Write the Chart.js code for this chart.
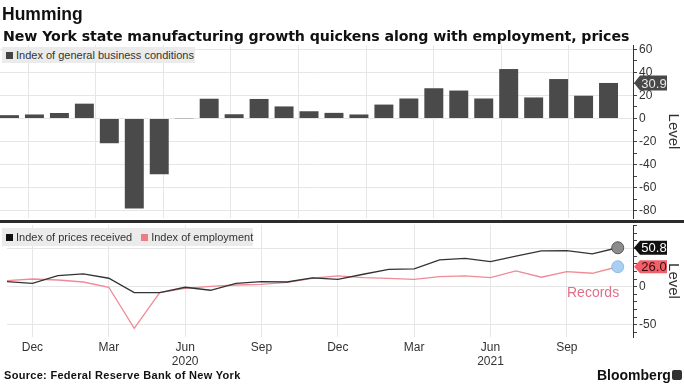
<!DOCTYPE html>
<html><head><meta charset="utf-8">
<script src="https://cdn.jsdelivr.net/npm/chart.js@4.4.0/dist/chart.umd.min.js"></script>
<style>
html,body{margin:0;padding:0;background:#fff}
body{width:684px;height:384px;overflow:hidden;position:relative;font-family:'Liberation Sans',Arial,sans-serif;color:#222}
canvas{position:absolute;left:0;top:0}
.t{position:absolute;white-space:nowrap}
#title{left:2px;top:4px;font-size:17.5px;font-weight:bold;color:#111}
#subtitle{left:3px;top:28px;font-size:14.2px;font-weight:bold;color:#111;font-family:'DejaVu Sans',sans-serif;letter-spacing:-0.1px}
.legend{position:absolute;background:#ebebeb;font-size:11px;color:#333;display:flex;align-items:center;padding:0 4px;box-sizing:border-box;white-space:nowrap}
.legend .sq{display:inline-block;width:7px;height:7px;margin-right:3px}
.legend .it{display:flex;align-items:center;margin-right:9px;white-space:nowrap}
#sep{position:absolute;left:0;top:220px;width:684px;height:3px;background:#2b2b2b}
#records{left:567px;top:284px;font-size:14px;color:#e0708a}
#source{left:4px;top:369px;font-size:11px;font-weight:bold;color:#111;letter-spacing:0.3px}
#bbg{left:597px;top:367px;font-size:14px;font-weight:bold;color:#111}
#bbgicon{position:absolute;left:672px;top:370px;width:10px;height:10px;background:#333;border-radius:2px}
</style></head><body>
<canvas id="c1" width="684" height="384"></canvas>
<canvas id="c2" width="684" height="384"></canvas>
<div id="sep"></div>
<div class="t" id="title">Humming</div>
<div class="t" id="subtitle">New York state manufacturing growth quickens along with employment, prices</div>
<div class="legend" style="left:2px;top:47px;width:193px;height:16px"><span class="it"><span class="sq" style="background:#444"></span>Index of general business conditions</span></div>
<div class="legend" style="left:2px;top:228px;width:251px;height:18px"><span class="it"><span class="sq" style="background:#111"></span>Index of prices received</span><span class="it"><span class="sq" style="background:#f07a85"></span>Index of employment</span></div>
<div class="t" id="records">Records</div>
<div class="t" id="source">Source: Federal Reserve Bank of New York</div>
<div class="t" id="bbg">Bloomberg</div>
<div id="bbgicon"></div>
<script>
// ---- data ----
const months = ['Nov 2019','Dec 2019','Jan 2020','Feb 2020','Mar 2020','Apr 2020','May 2020','Jun 2020','Jul 2020','Aug 2020','Sep 2020','Oct 2020','Nov 2020','Dec 2020','Jan 2021','Feb 2021','Mar 2021','Apr 2021','May 2021','Jun 2021','Jul 2021','Aug 2021','Sep 2021','Oct 2021','Nov 2021'];
const businessConditions = [2.9,3.5,4.8,12.9,-21.5,-78.2,-48.5,-0.2,17.2,3.7,17.0,10.5,6.3,4.9,3.5,12.1,17.4,26.3,24.3,17.4,43.0,18.3,34.3,19.8,30.9];
const pricesReceived = [6.5,4.4,14.4,16.6,11.0,-7.8,-7.8,-0.8,-4.7,4.4,6.5,6.1,11.4,9.6,16.2,22.7,23.1,34.9,37.0,32.6,40.0,46.6,47.0,42.7,50.8];
const employment = [7.8,10.0,8.7,6.1,-0.8,-54.3,-7.8,-2.2,0.4,2.2,3.0,5.7,11.0,14.0,11.7,10.9,9.6,13.0,14.0,11.7,20.5,12.3,19.6,17.5,26.0];
const tickMonthNames = ['Dec','Mar','Jun','Sep'];
const topTicks = [-80,-60,-40,-20,0,20,40,60];
const bottomTicks = [-50,0,50];

// derived tick positions (quarter months) from the categories
const qIdx = [];
months.forEach((m,i)=>{ if (tickMonthNames.includes(m.slice(0,3))) qIdx.push(i); });

const AXIS_W = 51;
const FONT = "'Liberation Sans', Arial, sans-serif";
const gridCol = '#e6e6e6';

const tagPlugin = {
  id: 'tags',
  afterDraw(chart, args, opts) {
    const ctx = chart.ctx;
    const yS = chart.scales.y;
    const x0 = chart.chartArea.right;
    (opts.items || []).forEach(t => {
      const data = chart.data.datasets[t.ds].data;
      const last = data[data.length - 1];
      const v = typeof last === 'object' ? last.y : last;
      const y = yS.getPixelForValue(v);
      const h = t.h || 15;
      ctx.save();
      ctx.fillStyle = t.bg;
      ctx.beginPath();
      ctx.moveTo(x0 + 1, y);
      ctx.lineTo(x0 + 7, y - h / 2);
      ctx.lineTo(x0 + 34, y - h / 2);
      ctx.lineTo(x0 + 34, y + h / 2);
      ctx.lineTo(x0 + 7, y + h / 2);
      ctx.closePath();
      ctx.fill();
      ctx.fillStyle = t.fg;
      ctx.font = '13px ' + FONT;
      ctx.textAlign = 'center';
      ctx.textBaseline = 'middle';
      ctx.fillText(v.toFixed(1), x0 + 21, y + 1);
      ctx.restore();
    });
  }
};

function yAxis(min, max, step, majors, gridEvery) {
  return {
    type: 'linear', position: 'right', min, max,
    afterFit(s) { s.width = AXIS_W; },
    afterBuildTicks(s) {
      const t = [];
      for (let k = Math.ceil(min / step); k * step <= max; k++) t.push({ value: k * step });
      s.ticks = t;
    },
    ticks: {
      color: '#333', font: { size: 12, family: FONT }, padding: 2, autoSkip: false,
      callback: v => majors.includes(v) ? String(v) : ''
    },
    grid: {
      color: c => (c.tick && c.tick.value % gridEvery === 0) ? gridCol : 'rgba(0,0,0,0)',
      tickColor: '#444', tickLength: 4, drawTicks: true
    },
    border: { display: true, color: '#333', width: 1 },
    title: { display: true, text: 'Level', color: '#333', font: { size: 15, family: FONT }, padding: { top: 2, bottom: 2 } }
  };
}

const xMax = 24.6;
function quarterGridAxis(showLabels) {
  return {
    type: 'linear', min: 0, max: xMax, position: 'bottom',
    afterBuildTicks(s) { s.ticks = qIdx.map(v => ({ value: v })); },
    afterFit(s) { s.height = showLabels ? 34 : 0; },
    ticks: {
      display: showLabels, color: '#333', font: { size: 12, family: FONT }, padding: 3, maxRotation: 0, autoSkip: false,
      callback: v => {
        const m = months[v];
        if (!m) return '';
        const name = m.slice(0, 3);
        return name === 'Jun' ? [name, m.slice(4)] : name;
      }
    },
    grid: { color: gridCol, drawTicks: false },
    border: { display: false }
  };
}

Chart.defaults.font.family = FONT;

new Chart(document.getElementById('c1'), {
  type: 'bar',
  data: {
    datasets: [{
      label: 'Index of general business conditions',
      data: businessConditions.map((v, i) => ({ x: i, y: v })),
      backgroundColor: '#4a4a4a',
      barPercentage: 0.95, categoryPercentage: 0.8
    }]
  },
  options: {
    responsive: false, animation: false, devicePixelRatio: 1,
    layout: { padding: { top: 45, bottom: 166, left: 0, right: 0 } },
    plugins: { legend: { display: false }, tooltip: { enabled: false },
      tags: { items: [{ ds: 0, bg: '#484848', fg: '#e8e8e8', h: 15 }] } },
    scales: {
      x: { type: 'linear', min: -0.38, max: 24.98, offset: false, display: false, grid: { offset: false } },
      x2: quarterGridAxis(false),
      y: yAxis(-86.5, 63.9, 10, topTicks, 20)
    }
  },
  plugins: [tagPlugin]
});

new Chart(document.getElementById('c2'), {
  type: 'line',
  data: {
    datasets: [
      { label: 'Index of prices received', data: pricesReceived.map((v, i) => ({ x: i, y: v })),
        borderColor: '#333', borderWidth: 1.3, tension: 0,
        pointRadius: pricesReceived.map((v, i) => i === pricesReceived.length - 1 ? 6 : 0),
        pointBackgroundColor: '#8c8c8c', pointBorderColor: '#555', pointBorderWidth: 1 },
      { label: 'Index of employment', data: employment.map((v, i) => ({ x: i, y: v })),
        borderColor: '#f08a96', borderWidth: 1.3, tension: 0,
        pointRadius: employment.map((v, i) => i === employment.length - 1 ? 6 : 0),
        pointBackgroundColor: '#a9cff2', pointBorderColor: '#8ebbe8', pointBorderWidth: 1 }
    ]
  },
  options: {
    responsive: false, animation: false, devicePixelRatio: 1,
    layout: { padding: { top: 225, bottom: 13, left: 0, right: 0 } },
    plugins: { legend: { display: false }, tooltip: { enabled: false },
      tags: { items: [{ ds: 0, bg: '#111', fg: '#fff', h: 14 }, { ds: 1, bg: '#f0606a', fg: '#3a0c0c', h: 13 }] } },
    scales: {
      x: quarterGridAxis(true),
      y: yAxis(-65.7, 80.5, 10, bottomTicks, 50)
    }
  },
  plugins: [tagPlugin]
});
</script>
</body></html>
